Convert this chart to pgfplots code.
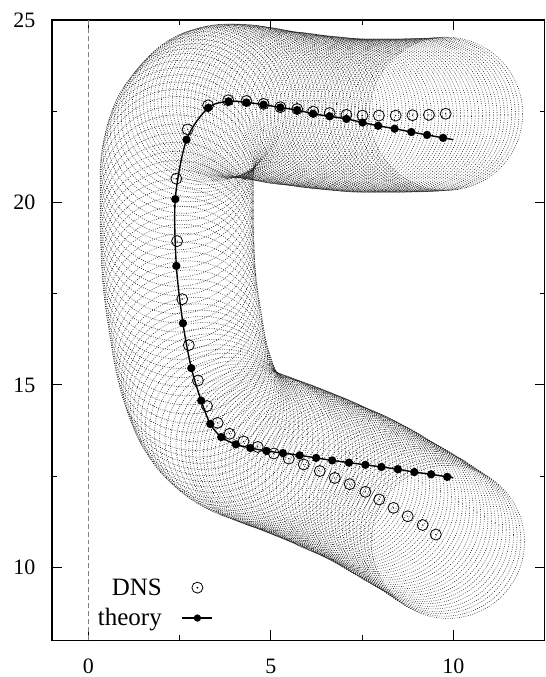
\documentclass[border=0pt]{standalone}
\usepackage{fontspec}
\setmainfont{Liberation Serif}
\usepackage{pgfplots}
\usepackage{pgfplotstable}
\pgfplotsset{compat=1.18}

% circle with a dot in the middle (gnuplot style point)
\pgfdeclareplotmark{odot}{%
  \pgfpathcircle{\pgfpointorigin}{\pgfplotmarksize}\pgfusepathqstroke
  \pgfpathcircle{\pgfpointorigin}{0.7pt}\pgfusepathqfill}

% centres of the tube cross sections
\pgfplotstableread{
x y
9.80 22.43
9.70 22.42
9.60 22.42
9.50 22.41
9.40 22.40
9.30 22.40
9.20 22.40
9.10 22.39
9.00 22.39
8.90 22.39
8.80 22.39
8.70 22.38
8.60 22.38
8.50 22.38
8.40 22.38
8.30 22.38
8.20 22.38
8.10 22.38
8.00 22.38
7.90 22.38
7.80 22.38
7.70 22.38
7.60 22.38
7.50 22.38
7.40 22.38
7.30 22.39
7.20 22.39
7.10 22.40
7.00 22.41
6.90 22.42
6.80 22.43
6.70 22.44
6.60 22.45
6.50 22.46
6.40 22.47
6.30 22.48
6.20 22.49
6.10 22.50
6.00 22.52
5.90 22.53
5.80 22.55
5.70 22.56
5.60 22.57
5.50 22.58
5.40 22.59
5.30 22.60
5.20 22.62
5.10 22.64
5.00 22.66
4.90 22.68
4.80 22.70
4.70 22.71
4.60 22.73
4.50 22.74
4.40 22.76
4.30 22.77
4.20 22.78
4.10 22.78
4.00 22.79
3.90 22.79
3.80 22.79
3.70 22.78
3.60 22.76
3.50 22.73
3.40 22.70
3.30 22.66
3.20 22.58
3.10 22.48
3.00 22.37
2.90 22.25
2.80 22.12
2.70 21.98
2.62 21.80
2.55 21.60
2.50 21.40
2.46 21.20
2.43 21.00
2.42 20.80
2.42 20.55
2.42 20.30
2.42 20.05
2.42 19.80
2.42 19.55
2.42 19.30
2.43 19.05
2.44 18.80
2.45 18.55
2.46 18.30
2.48 18.05
2.50 17.80
2.53 17.55
2.56 17.30
2.60 17.05
2.64 16.80
2.68 16.55
2.72 16.30
2.76 16.05
2.81 15.80
2.87 15.55
2.93 15.30
3.00 15.12
3.05 14.95
3.11 14.78
3.18 14.61
3.25 14.45
3.34 14.30
3.43 14.15
3.54 14.00
3.66 13.88
3.78 13.77
3.91 13.66
4.05 13.56
4.20 13.48
4.35 13.41
4.50 13.35
4.64 13.30
4.75 13.26
4.85 13.22
4.95 13.18
5.05 13.14
5.15 13.11
5.25 13.07
5.35 13.04
5.45 13.00
5.55 12.96
5.65 12.92
5.75 12.88
5.85 12.84
5.95 12.80
6.05 12.76
6.15 12.72
6.25 12.68
6.35 12.64
6.45 12.59
6.55 12.55
6.65 12.50
6.75 12.45
6.85 12.41
6.95 12.37
7.05 12.33
7.15 12.28
7.25 12.24
7.35 12.19
7.45 12.14
7.55 12.09
7.65 12.04
7.75 11.98
7.85 11.93
7.95 11.87
8.05 11.81
8.15 11.75
8.25 11.69
8.35 11.63
8.45 11.57
8.55 11.51
8.65 11.45
8.75 11.40
8.85 11.34
8.95 11.28
9.05 11.22
9.15 11.16
9.25 11.10
9.35 11.03
9.45 10.96
9.55 10.89
9.65 10.83
9.75 10.76
9.85 10.70
}\tube

\pgfplotstableread{
x y
9.79 22.43
9.33 22.40
8.88 22.39
8.42 22.38
7.96 22.38
7.51 22.38
7.07 22.40
6.61 22.45
6.16 22.49
5.72 22.56
5.26 22.61
4.80 22.70
4.33 22.78
3.83 22.80
3.28 22.66
2.72 22.00
2.41 20.65
2.43 18.94
2.57 17.35
2.75 16.09
3.00 15.12
3.25 14.42
3.54 13.96
3.87 13.66
4.25 13.45
4.64 13.30
5.08 13.12
5.49 12.98
5.90 12.82
6.34 12.64
6.75 12.45
7.16 12.28
7.59 12.07
7.97 11.86
8.36 11.63
8.75 11.40
9.16 11.16
9.52 10.90
}\dns

\pgfplotstableread{
x y
10.00 21.72
9.72 21.77
9.28 21.85
8.85 21.93
8.39 22.02
7.94 22.10
7.51 22.19
7.07 22.29
6.61 22.36
6.16 22.43
5.72 22.53
5.26 22.60
4.80 22.68
4.33 22.74
3.84 22.77
3.28 22.59
2.69 21.72
2.38 20.09
2.41 18.26
2.59 16.69
2.82 15.46
3.09 14.57
3.34 13.93
3.64 13.57
4.04 13.37
4.44 13.27
4.88 13.19
5.33 13.13
5.79 13.07
6.24 13.00
6.68 12.93
7.14 12.87
7.59 12.81
8.03 12.75
8.48 12.69
8.93 12.61
9.39 12.55
9.83 12.48
10.00 12.46
}\theory

\begin{document}
\begin{tikzpicture}
\begin{axis}[
    x=36.55pt, y=36.55pt,
    xmin=-1, xmax=12.5,
    ymin=8, ymax=25,
    xtick={0,5,10},
    ytick={10,15,20,25},
    minor x tick num=1,
    minor y tick num=1,
    tick align=inside,
    major tick length=10pt,
    minor tick length=5pt,
    axis line style={line width=1.2pt},
    every tick/.style={black, line width=1pt},
    tick label style={font=\fontsize{22}{26}\selectfont},
    /pgf/number format/assume math mode=true,
    yticklabel style={xshift=-13pt},
    xticklabel style={yshift=-15pt},
    legend plot pos=right,
    legend cell align=right,
    legend style={draw=none, fill=none, font=\fontsize{25}{29}\selectfont,
        at={(axis description cs:0.083,0.014)}, anchor=south west,
        row sep=8pt, column sep=18pt},
]
\addplot[only marks, mark=o, mark size=76.7pt,
    mark options={draw=black!90, line width=0.55pt, dash pattern=on 0.8pt off 1.5pt},
    forget plot] table {\tube};
\addplot[gray, line width=0.8pt, dash pattern=on 5pt off 3pt, forget plot]
    coordinates {(0,8) (0,25)};
\addplot[only marks, mark=odot, mark size=5.5pt, black,
    mark options={line width=0.8pt}, forget plot] table {\dns};
\addplot[black, line width=1.4pt, smooth, tension=0.5,
    mark=*, mark size=3.4pt, mark indices={2,3,...,38}, forget plot]
    table {\theory};

\addlegendimage{legend image code/.code={
    \draw[black, line width=0.8pt] (15pt,0pt) circle (5.5pt);
    \fill[black] (15pt,0pt) circle (0.7pt);}}
\addlegendentry{DNS}
\addlegendimage{legend image code/.code={
    \draw[black, line width=1.4pt] (0pt,0pt) -- (30pt,0pt);
    \fill[black] (15pt,0pt) circle (3.4pt);}}
\addlegendentry{theory}
\end{axis}
\path[use as bounding box]
    ([shift={(-52pt,-35pt)}]current axis.south west)
    rectangle ([shift={(0pt,20pt)}]current axis.north east);
\end{tikzpicture}
\end{document}
